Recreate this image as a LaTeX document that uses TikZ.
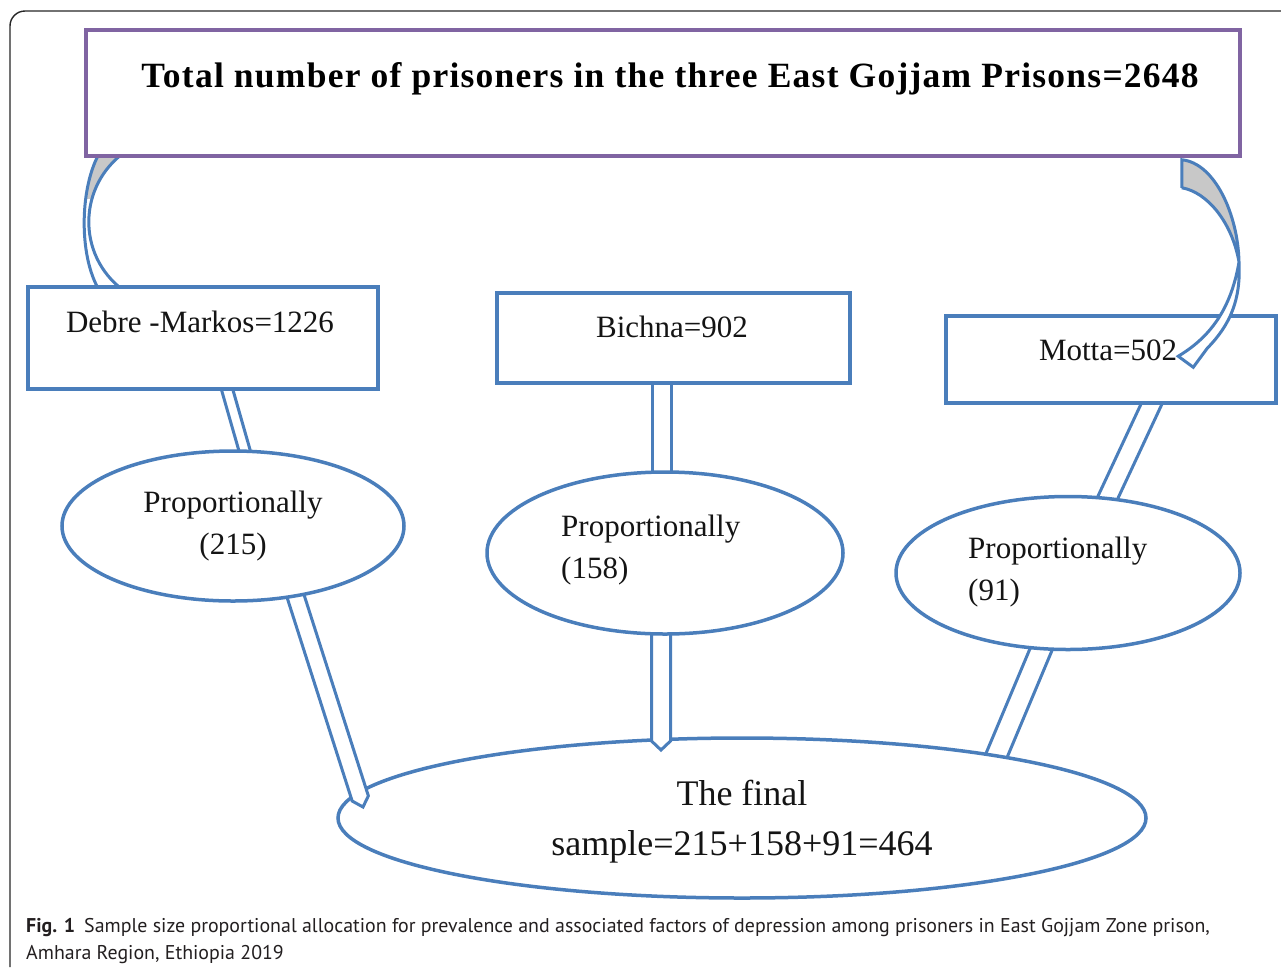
\documentclass[tikz,border=0pt]{standalone}
\usepackage{fontspec}
\setmainfont{Liberation Serif}
\newfontfamily\capfont{PT Sans}
\usetikzlibrary{calc,shapes.geometric}
\definecolor{obl}{RGB}{74,126,187}
\definecolor{opu}{RGB}{128,100,162}
\definecolor{txt}{RGB}{20,20,20}
\definecolor{rgray}{RGB}{200,200,200}
\definecolor{captxt}{RGB}{35,31,32}
\pgfdeclarelayer{bg}
\pgfdeclarelayer{mid}
\pgfsetlayers{bg,mid,main}
\newcommand\hollowlink[4]{%
  \coordinate (hlA) at (#2);
  \coordinate (hlB) at (#3);
  \coordinate (hlC) at ($(hlB)!#4!(hlA)$);
  \fill[white] ($(hlA)!#1!90:(hlC)$) -- ($(hlC)!#1!-90:(hlA)$) -- (hlB) -- ($(hlC)!#1!90:(hlA)$) -- ($(hlA)!#1!-90:(hlC)$) -- cycle;
  \draw[link] ($(hlA)!#1!90:(hlC)$) -- ($(hlC)!#1!-90:(hlA)$) -- (hlB) -- ($(hlC)!#1!90:(hlA)$) -- ($(hlA)!#1!-90:(hlC)$);
}
\tikzset{
  bbox/.style={draw=obl, line width=3.5pt, fill=white, inner sep=0pt},
  pbox/.style={draw=opu, line width=3.5pt, fill=white, inner sep=0pt},
  oval/.style={ellipse, draw=obl, line width=3.5pt, fill=white, inner sep=0pt},
  btxt/.style={text=txt, font=\fontsize{31}{37}\selectfont, inner sep=0pt},
  otxt/.style={text=txt, font=\fontsize{31}{42}\selectfont, inner sep=0pt},
  fintxt/.style={text=txt, font=\fontsize{36}{50}\selectfont, inner sep=0pt, align=center},
  titletxt/.style={text=black, font=\fontsize{35.5}{40}\selectfont\bfseries\addfontfeatures{LetterSpace=3.5}, inner sep=0pt},
  link/.style={draw=obl, line width=3pt, line join=miter},
  ribbon/.style={draw=obl, line width=3pt},
  captionstyle/.style={text=captxt, font=\capfont\fontsize{19.9}{24}\selectfont, inner sep=0pt},
  frameline/.style={draw=black!85, line width=1.4pt, rounded corners=15pt},
}
\begin{document}
\begin{tikzpicture}[x=1pt, y=-1pt]
\useasboundingbox (0,0) rectangle (1281,967);
\draw[frameline] (10,967) -- (10,11) -- (1281,11);

% nodes
\node[pbox, minimum width=1154pt, minimum height=126pt] (top) at (663,93) {};
\node[titletxt] (toptxt) at (670,79) {Total number of prisoners in the three East Gojjam Prisons=2648};
\node[bbox, minimum width=350pt, minimum height=102pt] (dm) at (203,338) {};
\node[btxt] (dmt) at (200,322) {Debre -Markos=1226};
\node[bbox, minimum width=353pt, minimum height=90pt] (bi) at (673.5,338) {};
\node[btxt] (bit) at (672,327) {Bichna=902};
\node[bbox, minimum width=330pt, minimum height=87pt] (mo) at (1111,359.5) {};
\node[btxt] (mot) at (1108,350) {Motta=502};

\node[oval, minimum width=342pt, minimum height=150pt] (e1) at (233,526) {};
\node[otxt, align=center] (e1t) at (233,526) {Proportionally\\(215)};
\node[oval, minimum width=356pt, minimum height=162pt] (e2) at (665,553) {};
\node[otxt, align=left, anchor=west] (e2t) at (561,550) {Proportionally\\(158)};
\node[oval, minimum width=344pt, minimum height=153pt] (e3) at (1068,573) {};
\node[otxt, align=left, anchor=west] (e3t) at (968,572) {Proportionally\\(91)};

\begin{pgfonlayer}{mid}
\node[oval, minimum width=808pt, minimum height=160pt] (fin) at (742,818) {};
\node[fintxt] (fint) at (742,822) {The final\\sample=215+158+91=464};
\hollowlink{8.5pt}{$(e1.center)+(59,59)$}{$(fin.center)+(-379,-11)$}{9pt}
\hollowlink{9.5pt}{$(e2.center)+(-4,72)$}{$(fin.center)+(-81,-68)$}{9pt}
\end{pgfonlayer}

\begin{pgfonlayer}{bg}
\hollowlink{5.5pt}{$(dm.center)+(21.4,42)$}{$(e1.center)+(15.7,-61)$}{0pt}
\hollowlink{9.5pt}{$(bi.center)+(-12,37)$}{$(e2.center)+(-3.5,-73)$}{0pt}
\hollowlink{9.5pt}{$(mo.center)+(44.7,35.5)$}{$(e3.center)+(36.3,-68)$}{0pt}
\hollowlink{10.5pt}{$(e3.center)+(-23,67)$}{$(fin.center)+(250.5,-53)$}{0pt}
% left ribbon from top box to Debre-Markos box
\coordinate (lrA) at ($(top.south west)+(16,-6)$);
\coordinate (lrB) at ($(top.south west)+(41,-6)$);
\coordinate (lrC) at ($(dm.north west)+(73,5)$);
\coordinate (lrD) at ($(dm.north west)+(97,5)$);
\fill[white] (lrA) .. controls (80,185) and (78,255) .. (lrC) -- (lrD) .. controls (76,255) and (78,185) .. (lrB) -- cycle;
\begin{scope}
\clip (60,140) rectangle (140,198);
\fill[rgray] (lrA) .. controls (80,185) and (78,255) .. (lrC) -- (lrD) .. controls (76,255) and (78,185) .. (lrB) -- cycle;
\end{scope}
\draw[ribbon] (lrA) .. controls (80,185) and (78,255) .. (lrC);
\draw[ribbon] (lrB) .. controls (78,185) and (76,255) .. (lrD);
\end{pgfonlayer}

% right ribbon from top box to Motta box
\coordinate (rrA) at ($(top.south east)+(-60,2)$);
\coordinate (rrB) at ($(top.south east)+(-60,30)$);
\coordinate (rrM) at (1239,262);
\coordinate (rrE) at ($(mo.north west)+(234,42)$);
\coordinate (rrT) at ($(mo.north west)+(249,53)$);
\coordinate (rrF) at ($(mo.north west)+(263,34)$);
\fill[rgray] (rrA) .. controls (1215,163) and (1238,215) .. (rrM) .. controls (1232,222) and (1207,192) .. (rrB) -- cycle;
\fill[white] (rrM) .. controls (1241,300) and (1230,325) .. (rrF) -- (rrT) -- (rrE) .. controls (1205,340) and (1230,315) .. (rrM) -- cycle;
\draw[ribbon, line join=miter] (rrB) -- (rrA) .. controls (1215,163) and (1238,215) .. (rrM) .. controls (1241,300) and (1230,325) .. (rrF) -- (rrT) -- (rrE) .. controls (1205,340) and (1230,315) .. (rrM) .. controls (1232,222) and (1207,192) .. (rrB);

% caption
\node[captionstyle, anchor=base west] (cap1) at (26,932) {\textbf{Fig. 1}\hspace{9pt}Sample size proportional allocation for prevalence and associated factors of depression among prisoners in East Gojjam Zone prison,};
\node[captionstyle, anchor=base west] (cap2) at (26,959) {Amhara Region, Ethiopia 2019};
\end{tikzpicture}
\end{document}
